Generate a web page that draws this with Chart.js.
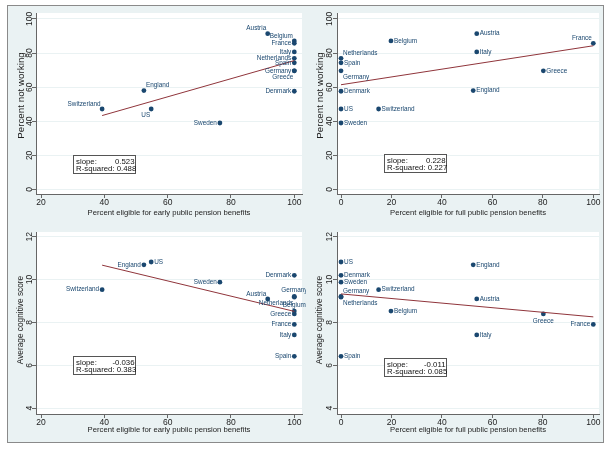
<!DOCTYPE html>
<html>
<head>
<meta charset="utf-8">
<script src="https://cdn.jsdelivr.net/npm/chart.js@4.4.0/dist/chart.umd.min.js"></script>
<style>
  body { margin: 0; background: #fff; }
  #frame { position: absolute; left: 7px; top: 5px; width: 595px; height: 436px;
           border: 1px solid #8a8a8a; background: #eaf2f3; }
  canvas { position: absolute; }
</style>
</head>
<body>
<div id="frame">
  <canvas id="c1" width="298" height="219" style="left:0px;top:0px"></canvas>
  <canvas id="c2" width="297" height="219" style="left:298px;top:0px"></canvas>
  <canvas id="c3" width="298" height="217" style="left:0px;top:219px"></canvas>
  <canvas id="c4" width="297" height="217" style="left:298px;top:219px"></canvas>
</div>
<script>
// countries, in the same order in every array
const countries = ['Austria', 'Belgium', 'Denmark', 'England', 'France', 'Germany', 'Greece',
                   'Italy', 'Netherlands', 'Spain', 'Sweden', 'Switzerland', 'US'];
const earlyEligible = [91.6, 100, 100, 52.5, 100, 100, 100, 100, 100, 100, 76.5, 39.3, 54.8];
const fullEligible  = [53.8, 19.8, 0, 52.4, 100, 0, 80.2, 53.8, 0, 0, 0, 14.9, 0];
const notWorking    = [91.4, 87.1, 57.6, 58.0, 85.7, 69.6, 69.6, 80.7, 76.9, 74.3, 39.0, 47.2, 47.2];
const cognitive     = [9.10, 8.53, 10.20, 10.69, 7.91, 9.22, 8.40, 7.42, 9.18, 6.42, 9.88, 9.53, 10.82];

const earlyTicks = [20, 40, 60, 80, 100];
const fullTicks = [0, 20, 40, 60, 80, 100];
const workTicks = [0, 20, 40, 60, 80, 100];
const cogTicks = [4, 6, 8, 10, 12];

// regression stats as printed on the graph: [slope, R-squared]
const stats1 = ['0.523', '0.488'];
const stats2 = ['0.228', '0.227'];
const stats3 = ['-0.036', '0.383'];
const stats4 = ['-0.011', '0.085'];

const xTitleEarly = 'Percent eligible for early public pension benefits';
const xTitleFull = 'Percent eligible for full public pension benefits';
const yTitleWork = 'Percent not working';
const yTitleCog = 'Average cognitive score';

const navy = '#1a476f';
const maroon = '#90353b';
const axisCol = '#666666';
const FONT = '"Liberation Sans", Arial, sans-serif';

// marker label positions (clock positions, Stata style)
const lab1 = [11, 11, 9, 1, 9, 9, 7, 9, 9, 9, 9, 11, 7];
const lab2 = [3, 3, 3, 3, 11, 5, 3, 3, 1, 3, 3, 3, 3];
const lab3 = [11, 12, 9, 9, 9, 12, 9, 9, 7, 9, 9, 9, 3];
const lab4 = [3, 3, 3, 3, 9, 1, 6, 3, 5, 3, 3, 3, 3];

const clock = {
  3: [3, 0, 'left'], 9: [-3, 0, 'right'],
  1: [2, -5, 'left'], 11: [-1.5, -5, 'right'],
  5: [2, 6.5, 'left'], 7: [-1, 6.5, 'right'],
  12: [0, -6, 'center'], 6: [0, 7, 'center']
};

function fitLine(xs, ys) {
  const n = xs.length;
  const mx = xs.reduce((a, b) => a + b, 0) / n;
  const my = ys.reduce((a, b) => a + b, 0) / n;
  let sxy = 0, sxx = 0;
  for (let i = 0; i < n; i++) {
    sxy += (xs[i] - mx) * (ys[i] - my);
    sxx += (xs[i] - mx) * (xs[i] - mx);
  }
  const b = sxy / sxx, a = my - b * mx;
  const lo = Math.min(...xs), hi = Math.max(...xs);
  return [{x: lo, y: a + b * lo}, {x: hi, y: a + b * hi}];
}

const whiteArea = {
  id: 'whiteArea',
  beforeDraw(chart) {
    const a = chart.chartArea;
    chart.ctx.save();
    chart.ctx.fillStyle = '#ffffff';
    chart.ctx.fillRect(a.left, a.top, a.right - a.left, a.bottom - a.top);
    chart.ctx.restore();
  }
};

// y axis title, drawn rotated a little above the centre as in the original
const yTitle = {
  id: 'yTitle',
  afterDraw(chart, args, opts) {
    const {ctx, chartArea} = chart;
    ctx.save();
    ctx.translate(opts.x, (chartArea.top + chartArea.bottom) / 2 + opts.dy);
    ctx.rotate(-Math.PI / 2);
    ctx.font = opts.size + 'px ' + FONT;
    ctx.fillStyle = '#222';
    ctx.textAlign = 'center';
    ctx.textBaseline = 'middle';
    ctx.fillText(opts.text, 0, 0);
    ctx.restore();
  }
};

const countryLabels = {
  id: 'countryLabels',
  afterDatasetsDraw(chart, args, opts) {
    const ctx = chart.ctx;
    const meta = chart.getDatasetMeta(0);
    ctx.save();
    ctx.font = '6.4px ' + FONT;
    ctx.fillStyle = navy;
    ctx.textBaseline = 'middle';
    meta.data.forEach((pt, i) => {
      const o = clock[opts.positions[i]];
      ctx.textAlign = o[2];
      ctx.fillText(countries[i], pt.x + o[0], pt.y + o[1]);
    });
    ctx.restore();
  }
};

const statBox = {
  id: 'statBox',
  afterDraw(chart, args, opts) {
    const {ctx, scales} = chart;
    const x = Math.round(scales.x.getPixelForValue(opts.at[0])) + 0.5;
    const y = Math.round(scales.y.getPixelForValue(opts.at[1])) + 0.5;
    const w = 62, h = 18;
    ctx.save();
    ctx.fillStyle = '#ffffff';
    ctx.fillRect(x, y, w, h);
    ctx.strokeStyle = '#555555';
    ctx.lineWidth = 1;
    ctx.strokeRect(x, y, w, h);
    ctx.font = '7.8px ' + FONT;
    ctx.fillStyle = '#111111';
    ctx.textBaseline = 'middle';
    ctx.textAlign = 'left';
    ctx.fillText('slope:', x + 2.5, y + 6);
    ctx.textAlign = 'right';
    ctx.fillText(opts.stats[0], x + w - 1, y + 6);
    ctx.textAlign = 'left';
    ctx.fillText('R-squared: ' + opts.stats[1], x + 2.5, y + 13.3);
    ctx.restore();
  }
};

function makePanel(id, xs, ys, c) {
  const pts = xs.map((x, i) => ({x: x, y: ys[i]}));
  new Chart(document.getElementById(id), {
    type: 'scatter',
    data: {
      datasets: [
        {data: pts, backgroundColor: navy, borderColor: navy, pointRadius: 2.4, borderWidth: 0},
        {data: fitLine(xs, ys), showLine: true, borderColor: maroon, borderWidth: 1,
         pointRadius: 0, order: -1}
      ]
    },
    options: {
      responsive: false,
      animation: false,
      events: [],
      layout: {padding: {top: 7, right: c.padRight, bottom: 0, left: 0}},
      plugins: {
        legend: {display: false},
        tooltip: {enabled: false},
        countryLabels: {positions: c.labels},
        statBox: {at: c.boxAt, stats: c.stats},
        yTitle: {text: c.yTitle, size: c.yTitleSize, x: c.yTitleX, dy: c.yTitleDy}
      },
      scales: {
        x: {
          type: 'linear', min: c.xMin, max: c.xMax,
          afterBuildTicks: s => { s.ticks = c.xTicks.map(v => ({value: v})); },
          afterFit: s => { s.height = c.xAxisH; },
          grid: {drawOnChartArea: false, tickLength: 4, tickColor: axisCol},
          border: {color: axisCol},
          ticks: {font: {family: FONT, size: 8.5}, color: '#222', padding: 0,
                  maxRotation: 0, autoSkip: false},
          title: {display: true, text: c.xTitle, font: {family: FONT, size: 7.7}, color: '#222',
                  padding: {top: 0, bottom: 7.5}}
        },
        y: {
          type: 'linear', min: c.yMin, max: c.yMax,
          afterBuildTicks: s => { s.ticks = c.yTicks.map(v => ({value: v})); },
          afterFit: s => { s.width = c.yAxisW; },
          grid: {color: '#eaf2f3', tickLength: 4, tickColor: axisCol},
          border: {color: axisCol},
          ticks: {font: {family: FONT, size: 8.5}, color: '#222', padding: c.yTickPad,
                  minRotation: 90, maxRotation: 90, crossAlign: 'center', autoSkip: false},
          title: {display: false}
        }
      }
    },
    plugins: [whiteArea, countryLabels, statBox, yTitle]
  });
}

makePanel('c1', earlyEligible, notWorking, {
  xMin: 18.42, xMax: 102.43, yMin: -2.64, yMax: 103.5,
  xTicks: earlyTicks, yTicks: workTicks, xTitle: xTitleEarly, yTitle: yTitleWork,
  yAxisW: 28, xAxisH: 31, padRight: 4, yTickPad: -4.6,
  yTitleSize: 9.8, yTitleX: 13, yTitleDy: -8,
  labels: lab1, boxAt: [30.0, 20.2], stats: stats1
});
makePanel('c2', fullEligible, notWorking, {
  xMin: -1.59, xMax: 102.26, yMin: -2.64, yMax: 103.5,
  xTicks: fullTicks, yTicks: workTicks, xTitle: xTitleFull, yTitle: yTitleWork,
  yAxisW: 31, xAxisH: 31, padRight: 4, yTickPad: -3.6,
  yTitleSize: 9.8, yTitleX: 14, yTitleDy: -8,
  labels: lab2, boxAt: [17.2, 20.6], stats: stats2
});
makePanel('c3', earlyEligible, cognitive, {
  xMin: 18.42, xMax: 102.43, yMin: 3.73, yMax: 12.22,
  xTicks: earlyTicks, yTicks: cogTicks, xTitle: xTitleEarly, yTitle: yTitleCog,
  yAxisW: 28, xAxisH: 28, padRight: 4, yTickPad: -2.2,
  yTitleSize: 8.3, yTitleX: 13, yTitleDy: -3,
  labels: lab3, boxAt: [30.1, 6.44], stats: stats3
});
makePanel('c4', fullEligible, cognitive, {
  xMin: -1.59, xMax: 102.26, yMin: 3.73, yMax: 12.22,
  xTicks: fullTicks, yTicks: cogTicks, xTitle: xTitleFull, yTitle: yTitleCog,
  yAxisW: 31, xAxisH: 28, padRight: 4, yTickPad: -1.2,
  yTitleSize: 8.3, yTitleX: 14, yTitleDy: -3,
  labels: lab4, boxAt: [17.2, 6.36], stats: stats4
});
</script>
</body>
</html>
